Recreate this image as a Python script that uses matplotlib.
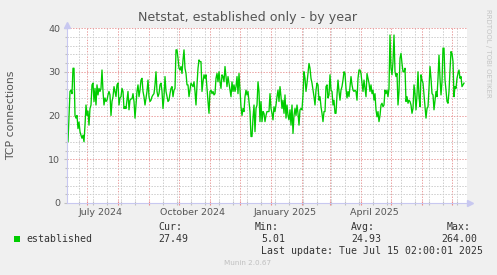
import datetime as dt
import matplotlib
matplotlib.use('Agg')
import matplotlib.pyplot as plt
import matplotlib.dates as mdates
from matplotlib.patches import Rectangle
from matplotlib.ticker import MultipleLocator, FixedLocator, NullFormatter
import matplotlib.transforms as mtransforms

# chart texts
title = 'Netstat, established only - by year'
ylabel = 'TCP connections'
month_labels = ['July 2024', 'October 2024', 'January 2025', 'April 2025']
label_dates = [dt.datetime(2024, 7, 15), dt.datetime(2024, 10, 15),
               dt.datetime(2025, 1, 15), dt.datetime(2025, 4, 15)]
legend_name = 'established'
stat_heads = ['Cur:', 'Min:', 'Avg:', 'Max:']
stat_vals = ['27.49', '5.01', '24.93', '264.00']
last_update = 'Last update: Tue Jul 15 02:00:01 2025'

# time range of the graph (400 days)
start = dt.datetime(2024, 6, 11, 6)
end = start + dt.timedelta(days=400)

# daily values
established = [
    17.8, 14, 20, 25.5, 25.8, 25, 30.8, 30.8, 20, 19.4, 20, 17, 18.5, 16.3, 15.5, 14.8, 15.5, 14,
    17.8, 22.4, 20, 21, 17.8, 21.6, 22.4, 27, 27.4, 23.2, 26.2, 22.4, 27, 24.7, 26.2, 25.5, 26.2,
    30.4, 25.5, 22.4, 24, 23.2, 23.5, 24.7, 25.5, 24.7, 20, 23.2, 24.3, 26.6, 25.5, 24.3, 27, 27.4,
    22.4, 24, 24.3, 26.2, 25.5, 21.6, 22, 21.6, 23.5, 25.5, 21.3, 23.5, 23.8, 23.8,
    25, 23.2, 19.4, 22.4, 25.5, 27, 24.3, 25.8, 28.1, 28.5, 25.5, 24.3, 22.4, 24, 25.5, 28.1, 24.3,
    23.2, 23.5, 24.3, 24.7, 25, 27, 30, 25.5, 24.3, 25, 27, 27.4, 25.5, 21.6, 24.3, 28.9, 25.5, 24.3,
    23.2, 23.5, 25, 26.2, 26.6, 24.3, 25.8, 26.2, 35, 35, 33.1, 30.8, 30.4, 31.2, 29.6, 32.7, 35,
    30.8, 29.6, 27, 27, 24.3, 25.8, 27.4, 27, 26.6, 27.7, 25.5, 22.4, 27, 30.8, 32.7,
    32.3, 32.3, 25.5, 27.7, 29.3, 28.5, 29.3, 26.2, 23.2, 20.5, 25.5, 25.8, 25, 25.5, 24.7, 25,
    28.5, 29.6, 27.7, 30, 27.7, 26.2, 29.3, 28.9, 27.7, 31.2, 28.9, 26.6, 28.9, 27.4, 25.8, 24.3,
    27.7, 25.5, 27, 25.5, 26.6, 28.9, 25, 29.6, 25.8, 22, 20, 21.6, 20.9, 24.3, 25.8, 24.7, 25.5,
    23.2, 20.9, 15.2, 15.2, 19.4, 22.4, 16.3, 21.6, 22.4, 27.7, 25.5, 18.6, 23.2, 18.6, 20.9, 20.5,
    18.6, 20, 20.9,
    20.9, 20.9, 25, 21.6, 20.5, 19, 22, 20.9, 22.4, 24.3, 25.8, 23.2, 26.6, 24.3, 21.6, 23.5, 20.5,
    24.7, 19.4, 22.4, 20, 19, 21.3, 17.8, 22.4, 15.9, 20, 21.6, 20, 22.4, 20.5, 17.8, 21.3, 21.6,
    21.3, 24.7, 30, 28.5, 25.5, 27.4, 29.6, 31.9, 30.8, 28.5, 27.4, 25.8, 24.3, 22.4, 25.8, 27.4,
    27, 23.5, 24.3, 22, 20.5, 18.6, 20.9, 20.9, 26.6, 27, 24, 24.7, 29.3, 25.8, 25.5, 22.4, 23.5, 20.5,
    20.5, 24.7, 28.1, 25.5, 23.5, 25.8, 26.6, 28.1, 30, 29.6, 26.2, 24, 25.5, 24.3, 26.6, 28.9, 27,
    25.8, 25.5, 25.8, 25.5, 23.5, 28.5, 30.4, 30.4, 29.6, 27.4, 25.5, 28.1, 26.2, 24.3, 29.6, 28.5,
    27.4, 25.5, 27, 25, 25.8, 23.5, 25, 21.3, 19.7, 20.9, 18.6, 20, 22.4, 22.8, 22, 22.4, 25.8, 25,
    25.8, 24.3, 26.2, 38.4, 30.8, 29.3, 32.3, 38.4, 30, 28.9, 29.6, 22.4, 25.5, 33.1, 34.2, 31.9, 30,
    30, 30.8, 23.2, 24.3, 22.8, 23.5, 23.2, 22.4, 20.5, 21.6, 27, 25, 21.3, 24.7, 30, 24.3, 22,
    29.3, 28.1, 27.4, 24.7, 22, 19.4, 21.6, 22, 26.2, 31.2, 28.5, 25, 24.7, 21.3, 23.5, 25.5, 24.3,
    28.5, 33.8, 28.5, 24.7, 27.7, 35.4, 35.4, 28.1, 25.8, 23.2, 22.8, 25.5, 30.4, 34.6, 34.2, 32.3,
    24.3, 26.6, 26.2, 28.5, 29.6, 30.4, 28.5, 28.9, 26.6, 27, 27.4,
]
dates = [start + dt.timedelta(days=i) for i in range(len(established))]

W, H = 497, 275
bg = '#f0f0f0'
fig = plt.figure(figsize=(W / 100, H / 100), dpi=100, facecolor=bg)
x0, x1, ytop, ybot = 67, 467, 28, 203
ax = fig.add_axes([x0 / W, 1 - ybot / H, (x1 - x0) / W, (ybot - ytop) / H])
ax.set_facecolor('white')

ax.plot(dates, established, color='#00cc00', lw=0.95, zorder=3)

ax.set_xlim(start, end)
ax.set_ylim(0, 40)

# grid, dotted like rrdtool
dot = (0, (1.4, 1.4))
ax.xaxis.set_major_locator(mdates.MonthLocator())
minor_days = [dt.datetime(2024, 6, 23) + dt.timedelta(days=14 * k) for k in range(29)]
ax.xaxis.set_minor_locator(FixedLocator(mdates.date2num(minor_days)))
ax.yaxis.set_major_locator(MultipleLocator(10))
ax.yaxis.set_minor_locator(MultipleLocator(2))
ax.grid(which='major', color='#eaa0a0', lw=0.72, ls=dot, zorder=1)
ax.grid(which='minor', color='#cccccc', lw=0.72, ls=dot, zorder=1)
ax.xaxis.set_major_formatter(NullFormatter())
ax.xaxis.set_minor_formatter(NullFormatter())

ax.tick_params(axis='x', which='major', colors='#ee8888', length=3, width=0.8, direction='inout')
ax.tick_params(axis='x', which='minor', colors='#c0c0c0', length=3, width=0.8, direction='inout')
ax.tick_params(axis='y', which='major', length=2, width=0.8, color='#c0c0c0',
               labelsize=6.8, labelcolor='#555555', pad=3)
ax.tick_params(axis='y', which='minor', length=1.5, width=0.8, color='#c0c0c0')

for s in ['top', 'right']:
    ax.spines[s].set_visible(False)
for s in ['left', 'bottom']:
    ax.spines[s].set_color('#c8c8f0')
    ax.spines[s].set_linewidth(0.8)
    ax.spines[s].set_zorder(4)

# axis arrows
ax.plot([0], [1.02], marker='^', ms=4, color='#c8c8f0', transform=ax.transAxes, clip_on=False)
ax.plot([0, 0], [1, 1.02], color='#c8c8f0', lw=0.8, transform=ax.transAxes, clip_on=False)
ax.plot([1.0075], [0], marker='>', ms=4, color='#c8c8f0', transform=ax.transAxes, clip_on=False)

# month labels
trans = mtransforms.blended_transform_factory(ax.transData, ax.transAxes)
for d, lab in zip(label_dates, month_labels):
    ax.text(mdates.date2num(d), -0.055, lab, transform=trans, ha='center', va='center',
            fontsize=6.8, color='#555555')

def fx(px):
    return px / W

def fy(py):
    return 1 - py / H

fig.text(fx(248), fy(18), title, ha='center', va='center', fontsize=9.1, color='#555555')
fig.text(fx(11), fy(115), ylabel, ha='center', va='center', rotation=90, fontsize=7.8,
         color='#555555')
fig.text(fx(488), fy(53), 'RRDTOOL / TOBI OETIKER', ha='center', va='center', rotation=270,
         fontsize=5, color='#c4c4c4')

# legend
mono = 'DejaVu Sans Mono'
fig.patches.append(Rectangle((fx(14), fy(242)), 6 / W, 6 / H, transform=fig.transFigure,
                             facecolor='#00cc00', edgecolor='none'))
fig.text(fx(26), fy(239.5), legend_name, family=mono, fontsize=7.1, color='#333333', va='center')
head_x = [158, 255, 351, 447]
val_x = [158, 261, 351, 441]
for hx, vx, h, v in zip(head_x, val_x, stat_heads, stat_vals):
    fig.text(fx(hx), fy(227.5), h, family=mono, fontsize=7.1, color='#333333', va='center')
    fig.text(fx(vx), fy(239.5), v, family=mono, fontsize=7.1, color='#333333', va='center')
fig.text(fx(261), fy(251.5), last_update, family=mono, fontsize=7.1, color='#333333', va='center')
fig.text(fx(248), fy(263), 'Munin 2.0.67', ha='center', va='center', fontsize=5.2, color='#c0c0c0')

fig.savefig('out.png', dpi=100, facecolor=bg)
